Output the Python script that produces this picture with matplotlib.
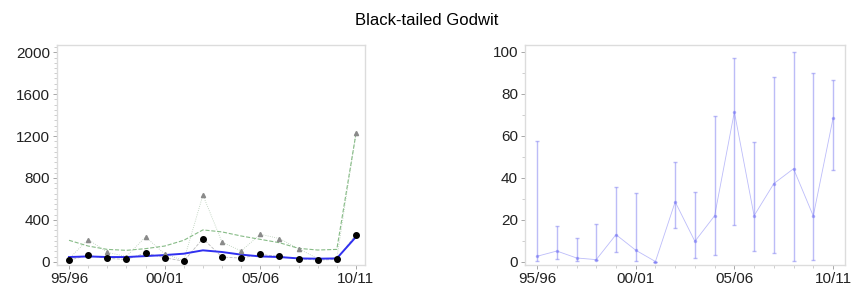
import matplotlib
matplotlib.use("Agg")
import matplotlib.pyplot as plt
from matplotlib.ticker import MultipleLocator

plt.rcParams['font.family'] = ['Liberation Sans', 'DejaVu Sans']

######################################################################
# DATA

seasons = ['95/96', '96/97', '97/98', '98/99', '99/00', '00/01', '01/02', '02/03',
           '03/04', '04/05', '05/06', '06/07', '07/08', '08/09', '09/10', '10/11']
tick_labels = ['95/96', '00/01', '05/06', '10/11']

counts = [15, 61, 32, 22, 83, 38, 6, 221, 45, 35, 70, 51, 29, 16, 22, 259]
maxima = [30, 212, 90, 50, 237, 75, 12, 637, 187, 103, 262, 222, 125, 30, 30, 1225]
trend = [45, 51, 45, 45, 54, 64, 77, 109, 93, 68, 51, 45, 32, 29, 32, 237]
upper = [205, 150, 118, 109, 125, 150, 205, 304, 285, 246, 214, 182, 128, 112, 118, 1220]

pct = [2.7, 5.2, 1.9, 1.1, 13.0, 5.6, 0.2, 28.6, 9.8, 22.0, 71.4, 22.0, 37.3, 44.4, 21.9, 68.3]
pct_lo = [0.3, 1.4, 0.3, 0.8, 4.6, 0.6, 0.2, 16.3, 1.9, 3.2, 17.8, 5.4, 4.4, 0.3, 0.8, 43.7]
pct_hi = [57.8, 17.0, 11.4, 18.1, 35.9, 32.9, 0.2, 47.5, 33.2, 69.4, 97.3, 57.3, 88.1, 100.0, 90.0, 86.5]

######################################################################
# PLOT

x = list(range(len(seasons)))
fig = plt.figure(figsize=(8.54, 2.94), dpi=100)
fig.text(0.5, 0.93, 'Black-tailed Godwit', ha='center', va='center', fontsize=12)

ax_l = fig.add_axes([0.0667, 0.099, 0.3606, 0.748])
ax_r = fig.add_axes([0.6148, 0.099, 0.3747, 0.748])

# left: counts with smoothed trend
ax_l.plot(x, maxima, ls=':', lw=0.6, color='#b5ccb5', zorder=1)
ax_l.plot(x, counts, ls='--', lw=0.6, color='#bbbbbb', zorder=1)
ax_l.plot(x, upper, ls='--', lw=0.8, color='#86bb86', zorder=2)
ax_l.plot(x, trend, ls='-', lw=1.4, color='#3030f0', zorder=3)
ax_l.plot(x, maxima, ls='none', marker='^', ms=3, color='#8a8a8a', zorder=4)
ax_l.plot(x, counts, ls='none', marker='o', ms=4, color='black', zorder=5)
ax_l.set_xlim(-0.63, 15.47)
ax_l.set_ylim(-30, 2070)
ax_l.yaxis.set_major_locator(MultipleLocator(400))
ax_l.yaxis.set_minor_locator(MultipleLocator(50))

# right: percentage with confidence intervals
err = [[p - lo for p, lo in zip(pct, pct_lo)], [hi - p for p, hi in zip(pct, pct_hi)]]
ax_r.errorbar(x, pct, yerr=err, fmt='o-', ms=1.5, lw=0.6, elinewidth=1.0, capsize=1.5,
              color='#7a7af5', ecolor='#7a7af0', alpha=0.5)
ax_r.set_xlim(-0.61, 15.61)
ax_r.set_ylim(-1.4, 103.3)
ax_r.yaxis.set_major_locator(MultipleLocator(20))
ax_r.yaxis.set_minor_locator(MultipleLocator(10))

for ax in (ax_l, ax_r):
    ax.set_xticks([0, 5, 10, 15])
    ax.set_xticklabels(tick_labels)
    ax.xaxis.set_minor_locator(MultipleLocator(1))
    for sp in ax.spines.values():
        sp.set_color('#dcdcdc')
        sp.set_linewidth(1.0)
    ax.tick_params(which='major', length=3, width=0.6, color='#999999',
                   labelsize=11, labelcolor='#222222', pad=2)
    ax.tick_params(which='minor', length=2, width=0.5, color='#bbbbbb')

fig.savefig('out.png', dpi=100)
